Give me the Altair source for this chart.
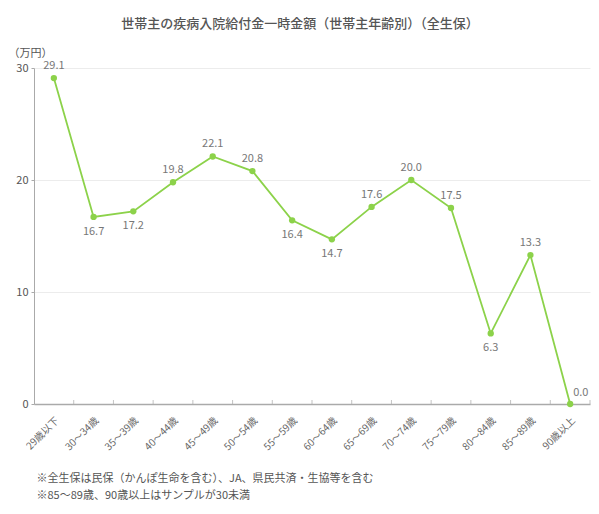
import pandas as pd
import altair as alt

# data
ages = ["29歳以下", "30〜34歳", "35〜39歳", "40〜44歳", "45〜49歳", "50〜54歳", "55〜59歳",
        "60〜64歳", "65〜69歳", "70〜74歳", "75〜79歳", "80〜84歳", "85〜89歳", "90歳以上"]
amount = [29.1, 16.7, 17.2, 19.8, 22.1, 20.8, 16.4, 14.7, 17.6, 20.0, 17.5, 6.3, 13.3, 0.0]

title = "世帯主の疾病入院給付金一時金額（世帯主年齢別）（全生保）"
notes = ["※全生保は民保（かんぽ生命を含む）、JA、県民共済・生協等を含む",
         "※85〜89歳、90歳以上はサンプルが30未満"]

df = pd.DataFrame({"age": ages, "amount": amount})

# label placement (style only)
below = ["30〜34歳", "35〜39歳", "55〜59歳", "60〜64歳", "80〜84歳"]
right = ["90歳以上"]
df["place"] = ["below" if a in below else "right" if a in right else "above" for a in ages]

FONT = "Noto Sans CJK JP"
GREEN = "#8cd24a"

x = alt.X("age:N", sort=ages,
          scale=alt.Scale(type="band", paddingInner=0, paddingOuter=0),
          axis=alt.Axis(title=notes, titleX=2, titleY=68, titleAlign="left",
                        titleBaseline="top", titleAnchor="start", titleFontSize=11,
                        titleFontWeight="normal", titleColor="#555", titleLineHeight=17,
                        labelAngle=-45, labelFontSize=10, labelColor="#666",
                        labelPadding=11, ticks=False, domainColor="#aaa",
                        domainWidth=1.5, grid=False))
y = alt.Y("amount:Q",
          scale=alt.Scale(domain=[0, 30]),
          axis=alt.Axis(values=[0, 10, 20, 30], title="（万円）", titleAngle=0,
                        titleAlign="left", titleBaseline="middle", titleX=-26,
                        titleY=-15, titleFontSize=11, titleFontWeight="normal",
                        titleColor="#555", labelFontSize=11, labelColor="#555",
                        tickSize=3, tickColor="#aaa", domainColor="#aaa",
                        gridColor="#ececec", labelPadding=3))

base = alt.Chart(df)

line = base.mark_line(color=GREEN, strokeWidth=1.8).encode(x=x, y=y)
points = base.mark_circle(color=GREEN, size=40, opacity=1).encode(x=x, y=y)

ticks = base.mark_tick(orient="vertical", color="#aaa", size=4, thickness=1, yOffset=-2).encode(
    x=alt.X("age:N", sort=ages, bandPosition=1),
    y=alt.datum(0)
)

lab = dict(fontSize=11, color="#777", font=FONT)
above_t = base.transform_filter("datum.place == 'above'").mark_text(dy=-12, **lab).encode(
    x=x, y=y, text=alt.Text("amount:Q", format=".1f"))
below_t = base.transform_filter("datum.place == 'below'").mark_text(dy=15, **lab).encode(
    x=x, y=y, text=alt.Text("amount:Q", format=".1f"))
right_t = base.transform_filter("datum.place == 'right'").mark_text(dx=3, dy=-11, align="left", **lab).encode(
    x=x, y=y, text=alt.Text("amount:Q", format=".1f"))

chart = (line + points + ticks + above_t + below_t + right_t).properties(
    width=556, height=336,
    title=alt.TitleParams(title, fontSize=13, fontWeight=500, color="#555",
                          anchor="middle", dx=-12, offset=16, font=FONT),
    autosize=alt.AutoSizeParams(type="none"),
    padding={"left": 26, "top": 60, "right": 1, "bottom": 100},
).configure(font=FONT).configure_view(stroke=None)

chart.save("out.html", embed_options={"renderer": "svg", "actions": False})
